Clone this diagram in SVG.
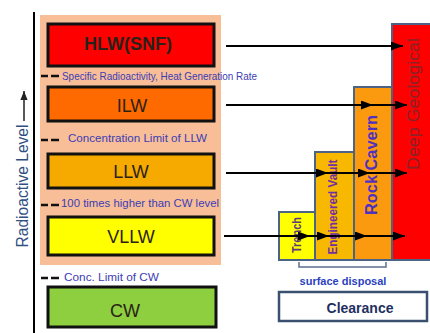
<svg xmlns="http://www.w3.org/2000/svg" width="430" height="333" viewBox="0 0 430 333">
<defs>
<marker id="ah" viewBox="0 0 12 9" refX="12" refY="4.5" markerWidth="6" markerHeight="4.5" orient="auto" markerUnits="strokeWidth">
<path d="M0,0 L12,4.5 L0,9 Z" fill="#000"/>
</marker>
<marker id="ah2" viewBox="0 0 10 10" refX="10" refY="5" markerWidth="6" markerHeight="6" orient="auto" markerUnits="strokeWidth">
<path d="M0,1 L10,5 L0,9 Z" fill="#222"/>
</marker>
<style>
.box{stroke:#111;stroke-width:3}
.lbl{font-family:"Liberation Sans",Arial,sans-serif;font-size:18px;fill:#2a2218;text-anchor:middle}
.note{font-family:"Liberation Sans",Arial,sans-serif;font-size:11px;fill:#3b3db5}
.dash{stroke:#111;stroke-width:2.5}
.bar{stroke:#4b6384;stroke-width:2}
.arr{fill:none;stroke:#000;stroke-width:2;marker-mid:url(#ah);marker-end:url(#ah)}
.vt{font-family:"Liberation Sans",Arial,sans-serif;text-anchor:middle}
</style>
</defs>
<rect width="430" height="333" fill="#fff"/>
<g id="axis">
<line x1="34" y1="12" x2="34" y2="333" stroke="#000" stroke-width="2"/>
<line x1="24" y1="121" x2="24" y2="91" stroke="#222" stroke-width="1.5" marker-end="url(#ah2)"/>
<text x="28" y="186" transform="rotate(-90 28 186)" class="vt" font-size="16" fill="#2f4f7f" textLength="123" lengthAdjust="spacingAndGlyphs">Radioactive Level</text>
</g>
<rect id="background" x="40" y="15" width="181" height="250" fill="#f7be98"/>
<g id="HLW"><rect class="box" x="48" y="24" width="166" height="42" fill="#ff0000"/><text class="lbl" x="128" y="50" font-weight="bold" font-size="16.5" fill="#4a0a0a">HLW(SNF)</text></g>
<g id="ILW"><rect class="box" x="48" y="87" width="166" height="34" fill="#ff6a00"/><text class="lbl" x="132" y="112">ILW</text></g>
<g id="LLW"><rect class="box" x="48" y="154" width="166" height="34" fill="#f6aa00"/><text class="lbl" x="131" y="178">LLW</text></g>
<g id="VLLW"><rect class="box" x="48" y="217" width="166" height="38" fill="#ffff00"/><text class="lbl" x="131" y="243">VLLW</text></g>
<g id="CW"><rect class="box" x="48" y="287" width="168" height="40" fill="#8dcf3f"/><text class="lbl" x="125" y="317" font-size="19">CW</text></g>
<g id="limits">
<line class="dash" x1="41" y1="76" x2="48" y2="76"/><line class="dash" x1="51" y1="76" x2="59" y2="76"/>
<text class="note" x="62" y="79.5" font-size="10" textLength="195" lengthAdjust="spacingAndGlyphs">Specific Radioactivity, Heat Generation Rate</text>
<line class="dash" x1="41" y1="140" x2="48" y2="140"/><line class="dash" x1="51" y1="140" x2="59" y2="140"/>
<text class="note" x="68" y="142" textLength="139" lengthAdjust="spacingAndGlyphs">Concentration Limit of LLW</text>
<line class="dash" x1="41" y1="205" x2="48" y2="205"/><line class="dash" x1="51" y1="205" x2="59" y2="205"/>
<text class="note" x="61" y="207" textLength="158" lengthAdjust="spacingAndGlyphs">100 times higher than CW level</text>
<line class="dash" x1="41" y1="278" x2="48" y2="278"/><line class="dash" x1="51" y1="278" x2="59" y2="278"/>
<text class="note" x="64" y="281" textLength="95" lengthAdjust="spacingAndGlyphs">Conc. Limit of CW</text>
</g>
<g id="DeepGeological"><rect class="bar" x="392" y="24" width="40" height="236" fill="#ff0000"/><text class="vt" x="419" y="104" transform="rotate(-90 419 104)" font-size="16" fill="#8a2228" textLength="132" lengthAdjust="spacingAndGlyphs">Deep Geological</text></g>
<g id="RockCavern"><rect class="bar" x="354" y="87" width="38" height="173" fill="#fb9a0e"/><text class="vt" x="377" y="165" transform="rotate(-90 377 165)" font-size="16" font-weight="bold" fill="#5030c0" textLength="100" lengthAdjust="spacingAndGlyphs">Rock Cavern</text></g>
<g id="EngineeredVault"><rect class="bar" x="315" y="152" width="39" height="108" fill="#f8b800"/><text class="vt" x="337" y="207" transform="rotate(-90 337 207)" font-size="12" font-weight="bold" fill="#7030a0" textLength="95" lengthAdjust="spacingAndGlyphs">Engineered Vault</text></g>
<g id="Trench"><rect class="bar" x="279" y="212" width="36" height="48" fill="#ffff00"/><text class="vt" x="301" y="235" transform="rotate(-90 301 235)" font-size="12" font-weight="bold" fill="#5b3a7a" textLength="36" lengthAdjust="spacingAndGlyphs">Trench</text></g>
<g id="surface">
<path d="M299,262 V267 H386 V262" fill="none" stroke="#5a7090" stroke-width="1.5"/>
<text class="vt" x="343" y="285" font-size="11" font-weight="bold" fill="#2b3fbf">surface disposal</text>
</g>
<g id="Clearance"><rect x="279" y="292" width="148" height="29" fill="#fff" stroke="#3b5070" stroke-width="2.5"/><text class="vt" x="360" y="313" font-size="14" font-weight="bold" fill="#1f3060">Clearance</text></g>
<g id="connectors">
<polyline class="arr" points="226,46 403,46"/>
<polyline class="arr" points="226,105 373,105 407,105"/>
<polyline class="arr" points="226,173 328,173 370,173 407,173"/>
<polyline class="arr" points="224,236 310,236 329,236 367,236 405,236"/>
</g>
</svg>
